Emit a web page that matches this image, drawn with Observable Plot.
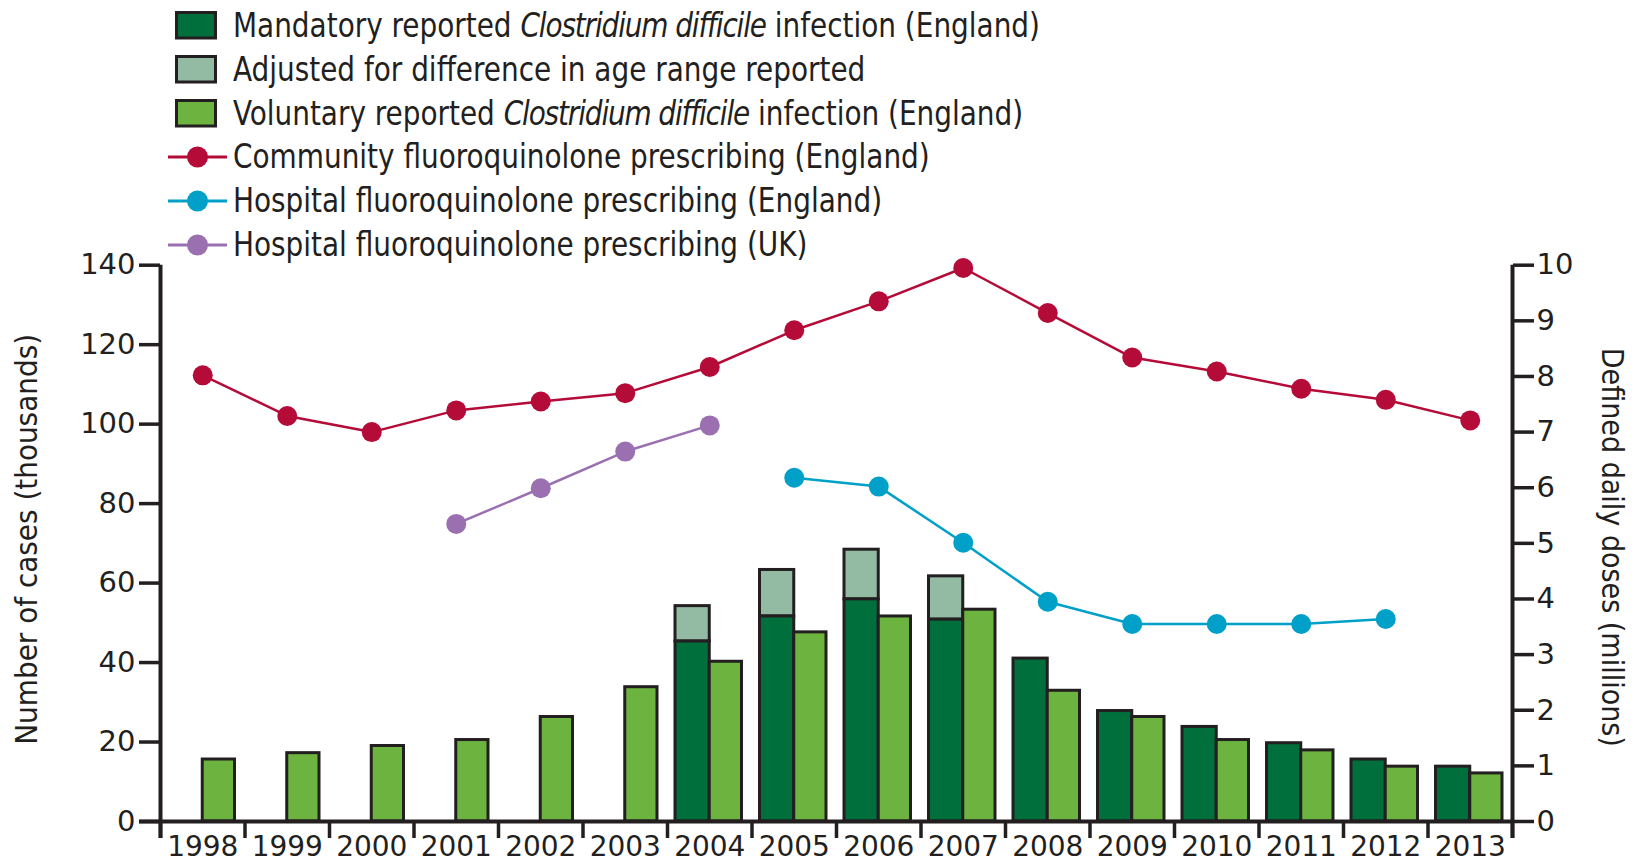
<!DOCTYPE html>
<html>
<head>
<meta charset="utf-8">
<script src="https://cdn.jsdelivr.net/npm/d3@7"></script>
<script src="https://cdn.jsdelivr.net/npm/@observablehq/plot@0.6"></script>
<style>
  html, body { margin: 0; padding: 0; background: #ffffff; }
  #wrap { width: 1633px; height: 865px; position: relative; overflow: hidden; background: #fff; }
  #legend { position: relative; width: 1633px; height: 252px; color: #231f20;
    font-family: "DejaVu Sans Condensed", "Liberation Sans Narrow", sans-serif; font-size: 33px; }
  .row { position: absolute; left: 0; height: 44px; width: 1200px; }
  .row svg { position: absolute; left: 160px; top: 0; }
  .row span.t { position: absolute; left: 233px; top: 0; line-height: 44px; white-space: nowrap;
    transform: scaleX(0.94); transform-origin: 0 50%; }
  .row span.t i { letter-spacing: -1.2px; }
  #chart svg { display: block; overflow: visible; }
</style>
</head>
<body>
<div id="wrap">
  <div id="legend"></div>
  <div id="chart"></div>
</div>
<script>
// ---------------- data ----------------
const years = [1998, 1999, 2000, 2001, 2002, 2003, 2004, 2005, 2006, 2007, 2008, 2009, 2010, 2011, 2012, 2013];
// Clostridium difficile infection cases (thousands)
const voluntary = [15.6, 17.2, 19.0, 20.5, 26.3, 33.8, 40.2, 47.6, 51.6, 53.3, 32.9, 26.3, 20.5, 17.9, 13.8, 12.1];
const mandatory = [null, null, null, null, null, null, 45.3, 51.6, 55.9, 50.8, 41.0, 27.8, 23.8, 19.7, 15.6, 13.8];
const adjustedTotal = [null, null, null, null, null, null, 54.2, 63.3, 68.4, 61.7, null, null, null, null, null, null];
// fluoroquinolone prescribing (defined daily doses, millions)
const community = [8.02, 7.29, 7.00, 7.39, 7.55, 7.70, 8.17, 8.83, 9.35, 9.95, 9.14, 8.34, 8.09, 7.78, 7.58, 7.21];
const hospEngYears = [2005, 2006, 2007, 2008, 2009, 2010, 2011, 2012];
const hospEng = [6.18, 6.02, 5.01, 3.95, 3.55, 3.55, 3.55, 3.64];
const hospUKYears = [2001, 2002, 2003, 2004];
const hospUK = [5.35, 5.99, 6.65, 7.12];
// axes
const leftTicks = [0, 20, 40, 60, 80, 100, 120, 140];
const rightTicks = [0, 1, 2, 3, 4, 5, 6, 7, 8, 9, 10];
const leftMax = 140, rightMax = 10;
const ratio = leftMax / rightMax;
const leftTitle = "Number of cases (thousands)";
const rightTitle = "Defined daily doses (millions)";

const colors = {
  mandatory: "#006f3c", adjusted: "#93bba4", voluntary: "#6cb33f",
  community: "#b50b38", hospEng: "#00a0c8", hospUK: "#9a70b0", ink: "#231f20"
};

const legendItems = [
  {type: "box", color: colors.mandatory, html: "Mandatory reported <i>Clostridium difficile</i> infection (England)"},
  {type: "box", color: colors.adjusted, html: "Adjusted for difference in age range reported"},
  {type: "box", color: colors.voluntary, html: "Voluntary reported <i>Clostridium difficile</i> infection (England)"},
  {type: "line", color: colors.community, html: "Community fluoroquinolone prescribing (England)"},
  {type: "line", color: colors.hospEng, html: "Hospital fluoroquinolone prescribing (England)"},
  {type: "line", color: colors.hospUK, html: "Hospital fluoroquinolone prescribing (UK)"}
];

// ---------------- legend ----------------
const legend = document.getElementById("legend");
legendItems.forEach((it, i) => {
  const row = document.createElement("div");
  row.className = "row";
  row.style.top = (26.3 + 43.7 * i - 22) + "px";
  const sw = it.type === "box"
    ? `<svg width="80" height="44"><rect x="16.5" y="8.5" width="39" height="25.5" fill="${it.color}" stroke="${colors.ink}" stroke-width="3"/></svg>`
    : `<svg width="80" height="44"><line x1="8" x2="67" y1="22" y2="22" stroke="${it.color}" stroke-width="3"/><circle cx="37.5" cy="22" r="10.5" fill="${it.color}"/></svg>`;
  row.innerHTML = sw + `<span class="t">${it.html}</span>`;
  legend.appendChild(row);
});

// ---------------- tables ----------------
const bars = years.map((year, i) => ({year, voluntary: voluntary[i], mandatory: mandatory[i], adjusted: adjustedTotal[i]}));
const commData = years.map((year, i) => ({year, value: community[i]}));
const engData = hospEngYears.map((year, i) => ({year, value: hospEng[i]}));
const ukData = hospUKYears.map((year, i) => ({year, value: hospUK[i]}));
const xMin = years[0] - 0.5, xMax = years[years.length - 1] + 0.5;
const boundaries = [...years.map(y => y - 0.5), xMax];

const tickFont = "'DejaVu Sans', sans-serif";
const titleFont = "'DejaVu Sans Condensed', 'Liberation Sans Narrow', sans-serif";

const chart = Plot.plot({
  width: 1633,
  height: 613,
  marginLeft: 160,
  marginRight: 121,
  marginTop: 12.7,
  marginBottom: 44,
  x: {type: "linear", domain: [xMin, xMax]},
  y: {domain: [0, leftMax]},
  style: {fontFamily: tickFont, fontSize: "28px", color: colors.ink, background: "white", overflow: "visible"},
  marks: [
    // bars
    Plot.rectY(bars.filter(d => d.mandatory != null), {
      x1: d => d.year - 0.5, x2: d => d.year, y1: d => d.mandatory, y2: d => d.adjusted,
      filter: d => d.adjusted != null,
      fill: colors.adjusted, stroke: colors.ink, strokeWidth: 3, insetLeft: 8
    }),
    Plot.rectY(bars.filter(d => d.mandatory != null), {
      x1: d => d.year - 0.5, x2: d => d.year, y1: 0, y2: d => d.mandatory,
      fill: colors.mandatory, stroke: colors.ink, strokeWidth: 3, insetLeft: 8
    }),
    Plot.rectY(bars, {
      x1: d => d.year, x2: d => d.year + 0.5, y1: 0, y2: d => d.voluntary,
      fill: colors.voluntary, stroke: colors.ink, strokeWidth: 3, insetRight: 10
    }),
    // axis lines
    Plot.ruleX([xMin], {y1: leftMax, y2: 0, insetBottom: -17, stroke: colors.ink, strokeWidth: 4}),
    Plot.ruleX([xMax], {y1: leftMax, y2: 0, insetBottom: -17, stroke: colors.ink, strokeWidth: 4}),
    Plot.ruleX(boundaries, {y1: 0, y2: 0, insetBottom: -17, stroke: colors.ink, strokeWidth: 3.5}),
    Plot.ruleY([0], {x1: xMin, x2: xMax, insetLeft: -21, stroke: colors.ink, strokeWidth: 4}),
    // axes
    Plot.axisY({ticks: leftTicks, anchor: "left", tickSize: 21, tickPadding: 4, strokeWidth: 3.5, label: null, fontSize: 29}),
    Plot.axisY({ticks: rightTicks.map(v => v * ratio), anchor: "right", tickSize: 21, tickPadding: 3, strokeWidth: 3.5, label: null,
      tickFormat: v => `${Math.round(v / ratio)}`, fontSize: 29}),
    Plot.axisX({ticks: years, anchor: "bottom", tickSize: 0, tickPadding: 15, label: null, tickFormat: d => `${d}`, fontSize: 28}),
    // axis titles
    Plot.text([leftTitle], {text: d => d, frameAnchor: "left", textAnchor: "middle", dx: -133, dy: -4, rotate: -90,
      fontSize: 31, fontFamily: titleFont, fill: colors.ink}),
    Plot.text([rightTitle], {text: d => d, frameAnchor: "right", textAnchor: "middle", dx: 99, dy: 4, rotate: 90,
      fontSize: 30, fontFamily: titleFont, fill: colors.ink}),
    // lines (right axis, millions)
    Plot.line(commData, {x: "year", y: d => d.value * ratio, stroke: colors.community, strokeWidth: 2.5}),
    Plot.dot(commData, {x: "year", y: d => d.value * ratio, fill: colors.community, r: 10}),
    Plot.line(engData, {x: "year", y: d => d.value * ratio, stroke: colors.hospEng, strokeWidth: 2.5}),
    Plot.dot(engData, {x: "year", y: d => d.value * ratio, fill: colors.hospEng, r: 10}),
    Plot.line(ukData, {x: "year", y: d => d.value * ratio, stroke: colors.hospUK, strokeWidth: 2.5}),
    Plot.dot(ukData, {x: "year", y: d => d.value * ratio, fill: colors.hospUK, r: 10})
  ]
});
document.getElementById("chart").appendChild(chart);
</script>
</body>
</html>
